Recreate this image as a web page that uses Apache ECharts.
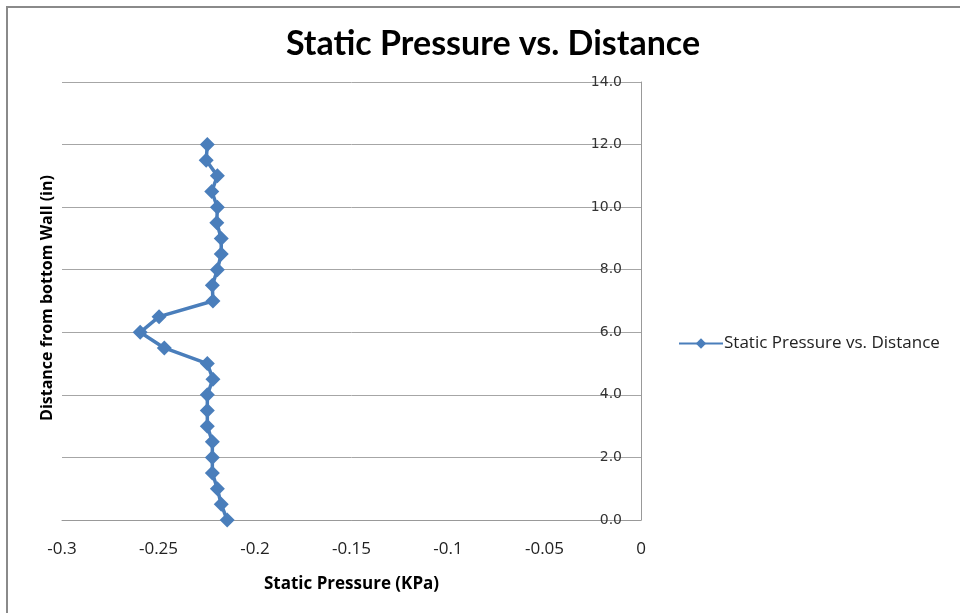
<!DOCTYPE html>
<html>
<head>
<meta charset="utf-8">
<script src="https://cdn.jsdelivr.net/npm/echarts@6/dist/echarts.min.js"></script>
<style>
  html, body { margin: 0; padding: 0; background: #fff; }
  #chart { width: 960px; height: 613px; }
</style>
</head>
<body>
<div id="chart"></div>
<script>
// distance from bottom wall (in)
var distance = [0, 0.5, 1, 1.5, 2, 2.5, 3, 3.5, 4, 4.5, 5, 5.5, 6, 6.5, 7, 7.5, 8, 8.5, 9, 9.5, 10, 10.5, 11, 11.5, 12];
// static pressure (KPa)
var pressure = [-0.2144, -0.2175, -0.2195, -0.2221, -0.2221, -0.2221, -0.2247, -0.2247, -0.2247, -0.2218, -0.2247,
                -0.2470, -0.2595, -0.2497, -0.2218, -0.2221, -0.2195, -0.2175, -0.2175, -0.2198, -0.2195, -0.2224,
                -0.2195, -0.2253, -0.2247];
var seriesName = 'Static Pressure vs. Distance';

var points = [];
for (var i = 0; i < distance.length; i++) {
    points.push([pressure[i], distance[i]]);
}

var myChart = echarts.init(document.getElementById('chart'));
var option = {
    animation: false,
    backgroundColor: '#fff',
    title: {
        text: 'Static Pressure vs. Distance',
        left: 488,
        top: 22,
        textAlign: 'center',
        textStyle: { fontFamily: 'Lato', fontWeight: 'bold', fontSize: 34, color: '#000' }
    },
    legend: {
        left: 673,
        top: 330,
        itemWidth: 44,
        itemHeight: 13,
        itemGap: 2,
        textStyle: { fontFamily: 'Open Sans', fontSize: 17, color: '#222', padding: [0, 0, 0, -4] },
        data: [seriesName]
    },
    grid: { left: 62, right: 319, top: 82, bottom: 93 },
    xAxis: {
        type: 'value',
        min: -0.3,
        max: 0,
        interval: 0.05,
        name: 'Static Pressure (KPa)',
        nameLocation: 'middle',
        nameGap: 56,
        nameTextStyle: { fontFamily: 'Open Sans', fontWeight: 'bold', fontSize: 17, color: '#000' },
        axisLine: { show: true, onZero: false, lineStyle: { color: '#999' } },
        axisTick: { show: false },
        splitLine: { show: false },
        axisLabel: { margin: 21, fontFamily: 'Open Sans', fontSize: 17, color: '#222' }
    },
    yAxis: {
        type: 'value',
        position: 'right',
        min: 0,
        max: 14,
        interval: 2,
        axisLine: { show: true, lineStyle: { color: '#999' } },
        axisTick: { show: false },
        splitLine: { show: true, lineStyle: { color: '#a6a6a6', width: 1 } },
        axisLabel: {
            inside: true,
            margin: 19,
            fontFamily: 'DejaVu Sans',
            fontSize: 14,
            color: '#333',
            formatter: function (v) { return v.toFixed(1); }
        }
    },
    graphic: [
        {
            type: 'line',
            shape: { x1: 6, y1: 7, x2: 960, y2: 7 },
            style: { stroke: '#8a8a8a', lineWidth: 2 },
            silent: true
        },
        {
            type: 'line',
            shape: { x1: 7, y1: 7, x2: 7, y2: 613 },
            style: { stroke: '#8a8a8a', lineWidth: 2 },
            silent: true
        },
        {
            type: 'text',
            x: 47,
            y: 298,
            rotation: Math.PI / 2,
            style: {
                text: 'Distance from bottom Wall (in)',
                font: 'bold 16px "Open Sans"',
                fill: '#000',
                align: 'center',
                verticalAlign: 'middle'
            }
        }
    ],
    series: [{
        name: seriesName,
        type: 'line',
        data: points,
        symbol: 'diamond',
        symbolSize: 15,
        showSymbol: true,
        lineStyle: { color: '#4a7ebb', width: 3.5 },
        itemStyle: { color: '#4a7ebb' }
    }]
};
myChart.setOption(option);
</script>
</body>
</html>
